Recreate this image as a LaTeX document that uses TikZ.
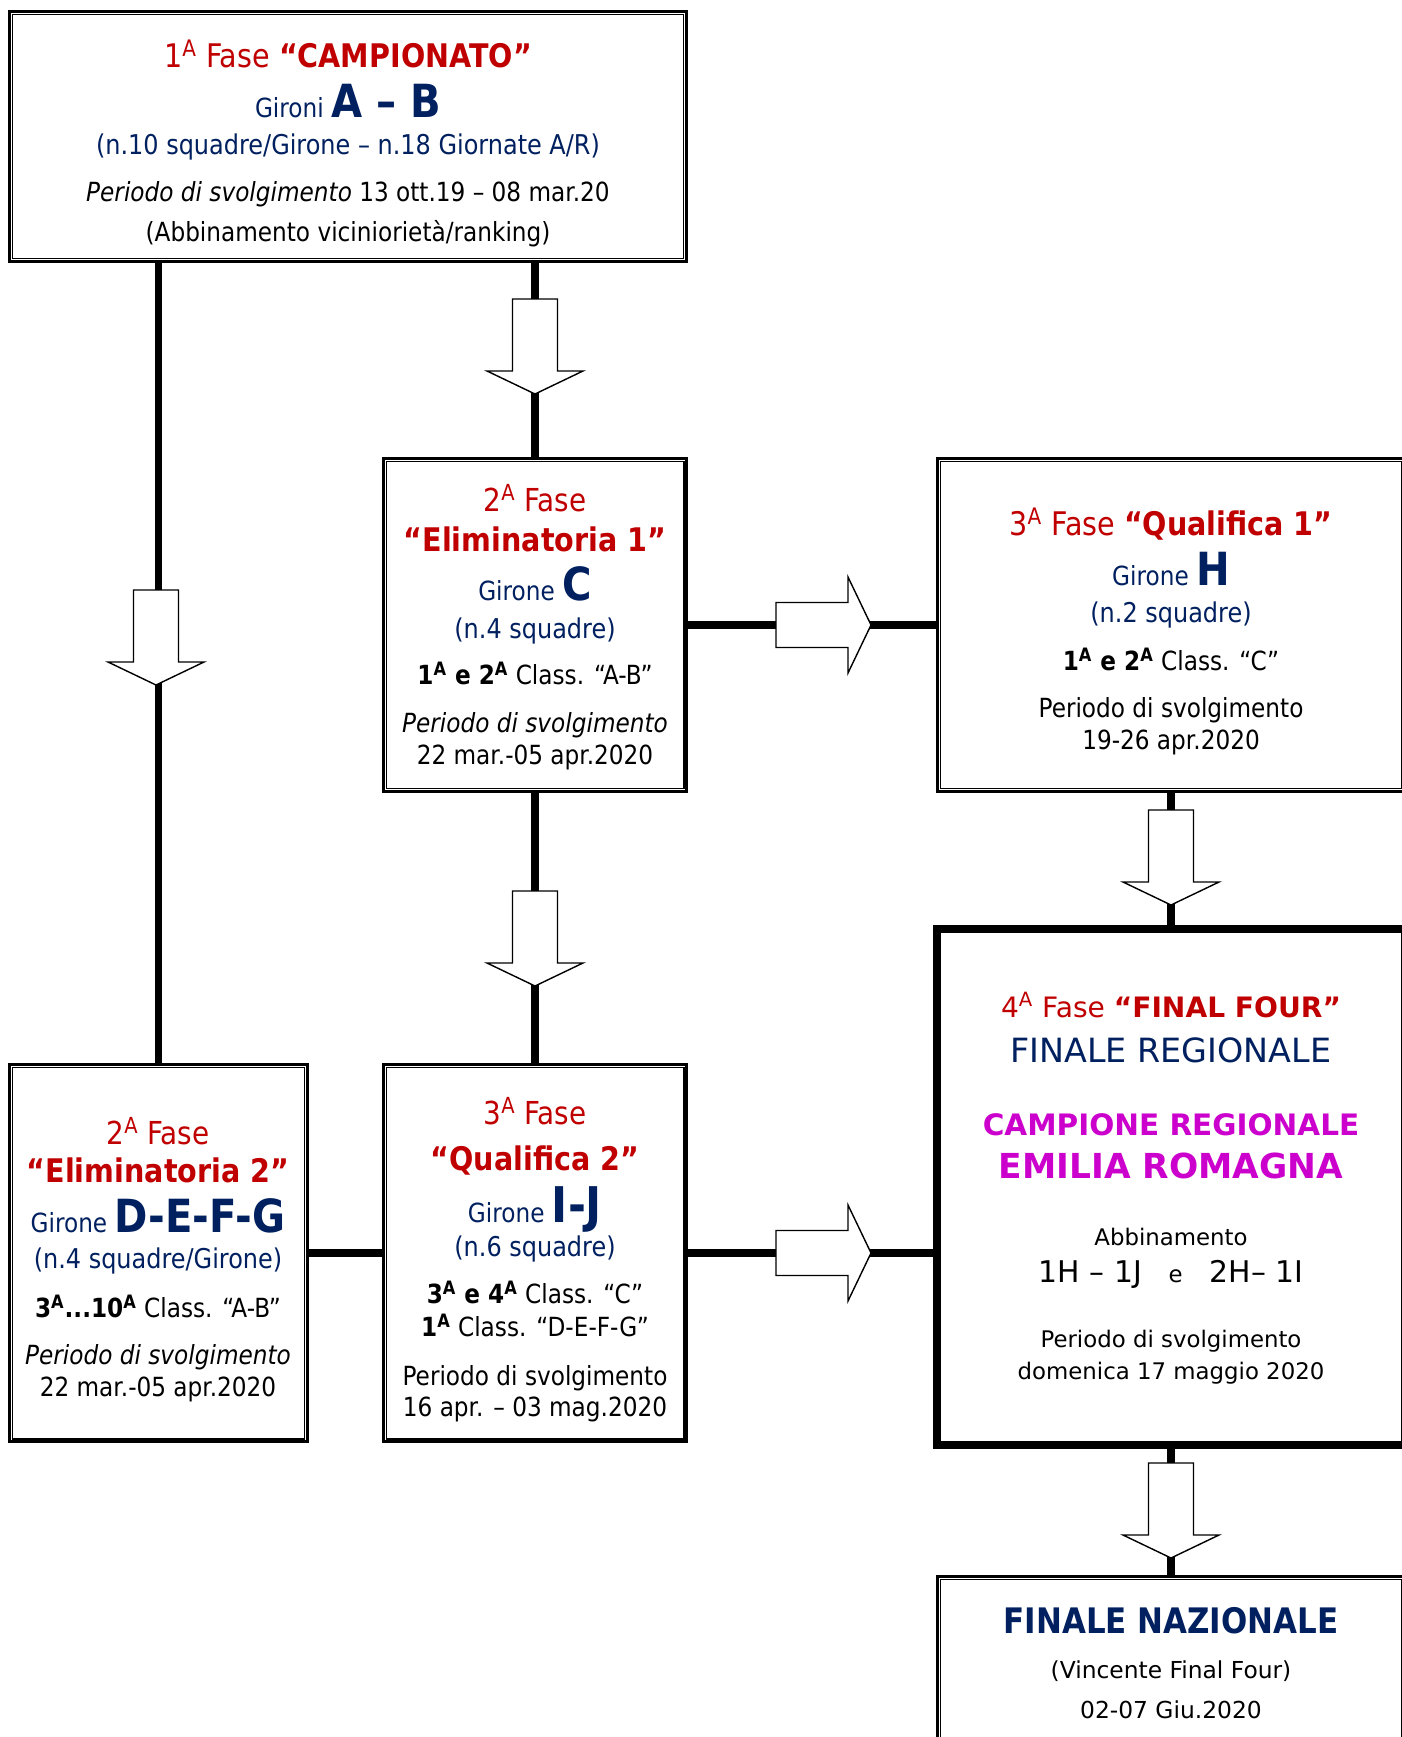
\documentclass[tikz,border=0pt]{standalone}
\usepackage{fontspec}
\setmainfont{DejaVu Sans}[FakeStretch=0.88]
\newfontfamily\wideface{DejaVu Sans}
\definecolor{faseRed}{HTML}{C00000}
\definecolor{gironeBlue}{HTML}{002060}
\definecolor{campMag}{HTML}{CC00CC}
\newcommand{\fsz}[1]{\fontsize{#1}{#1}\selectfont}
\newcommand{\supA}{\textsuperscript{A}}

\tikzset{
  fasebox/.style={draw, line width=1.7pt, fill=white, inner sep=0pt},
  finalbox/.style={draw, line width=5pt, fill=white, inner sep=0pt},
  conn/.style={line width=4.5pt},
  riga/.style={inner sep=0pt, text height=0.72em, text depth=0pt, anchor=center},
  bigarrow/.pic={\draw[line width=0.8pt, fill=white] (-22.5,-95) -- (22.5,-95) -- (22.5,-23) -- (48,-23) -- (0,0) -- (-48,-23) -- (-22.5,-23) -- cycle;}
}

\begin{document}
\begin{tikzpicture}[x=0.02cm, y=-0.02cm]
            \useasboundingbox[fill=white] (0,0) rectangle (1401,1737);
            % boxes
            \node[fasebox, minimum width=13.56cm, minimum height=5.02cm] (camp) at (348,136.5) {};
            \node[fasebox, minimum width=6.08cm, minimum height=6.68cm] (elim1) at (535,625) {};
            \node[fasebox, minimum width=9.36cm, minimum height=6.68cm] (qual1) at (1171,625) {};
            \node[fasebox, minimum width=5.98cm, minimum height=7.56cm] (elim2) at (158.5,1253) {};
            \node[fasebox, minimum width=6.08cm, minimum height=7.56cm] (qual2) at (535,1253) {};
            \node[finalbox, minimum width=9.36cm, minimum height=10.32cm] (ff) at (1171,1187) {};
            \node[fasebox, minimum width=9.36cm, minimum height=3.68cm] (fn) at (1171,1668) {};
            \foreach \b in {camp,elim1,qual1,elim2,qual2,fn}
                \draw[line width=0.6pt] ([shift={(4.5,4.5)}]\b.north west) rectangle ([shift={(-4.5,-4.5)}]\b.south east);
            % connectors
            \draw[conn] (camp.south -| elim2.north) -- (elim2.north);
            \draw[conn] (camp.south -| elim1.north) -- (elim1.north);
            \draw[conn] (elim1.east) -- (qual1.west);
            \draw[conn] (elim1.south) -- (qual2.north);
            \draw[conn] (qual1.south) -- (ff.north);
            \draw[conn] (elim2.east) -- (qual2.west);
            \draw[conn] (qual2.east) -- (qual2.east -| ff.west);
            \draw[conn] (ff.south) -- (fn.north);
            \pic at (156,685) {bigarrow};
            \pic at (535,394) {bigarrow};
            \pic[rotate=90] at (871,625) {bigarrow};
            \pic at (535,986) {bigarrow};
            \pic at (1171,905) {bigarrow};
            \pic[rotate=90] at (871,1253) {bigarrow};
            \pic at (1171,1558) {bigarrow};
            % 1a fase
            \node[riga, font=\fsz{18.5}, text=faseRed] (cA) at (348,61) {1\supA{} Fase \textbf{“CAMPIONATO”}};
            \node[riga, font=\fsz{15}, text=gironeBlue] (cB) at (348,111) {Gironi \textbf{\fsz{26}A – B}};
            \node[riga, font=\fsz{15.5}, text=gironeBlue] (cC) at (348,148) {(n.10 squadre/Girone – n.18 Giornate A/R)};
            \node[riga, font=\fsz{15}] (cD) at (348,195) {\textit{Periodo di svolgimento} 13 ott.19 – 08 mar.20};
            \node[riga, font=\fsz{15}] (cE) at (348,235) {(Abbinamento viciniorietà/ranking)};
            % eliminatoria 1
            \node[riga, font=\fsz{18}, text=faseRed] (e1A) at (535,505) {2\supA{} Fase};
            \node[riga, font=\fsz{18.5}, text=faseRed] (e1B) at (535,545) {\textbf{“Eliminatoria 1”}};
            \node[riga, font=\fsz{15}, text=gironeBlue] (e1C) at (535,594) {Girone \textbf{\fsz{26}C}};
            \node[riga, font=\fsz{15.5}, text=gironeBlue] (e1D) at (535,632) {(n.4 squadre)};
            \node[riga, font=\fsz{15}] (e1E) at (535,678) {\textbf{1\supA{} e 2\supA} Class. “A-B”};
            \node[riga, font=\fsz{15}] (e1F) at (535,726) {\textit{Periodo di svolgimento}};
            \node[riga, font=\fsz{15}] (e1G) at (535,758) {22 mar.-05 apr.2020};
            % qualifica 1
            \node[riga, font=\fsz{18.5}, text=faseRed] (q1A) at (1171,529) {3\supA{} Fase \textbf{“Qualifica 1”}};
            \node[riga, font=\fsz{15}, text=gironeBlue] (q1B) at (1171,579) {Girone \textbf{\fsz{26}H}};
            \node[riga, font=\fsz{15.5}, text=gironeBlue] (q1C) at (1171,616) {(n.2 squadre)};
            \node[riga, font=\fsz{15}] (q1D) at (1171,664) {\textbf{1\supA{} e 2\supA} Class. “C”};
            \node[riga, font=\fsz{15}] (q1E) at (1171,711) {Periodo di svolgimento};
            \node[riga, font=\fsz{15}] (q1F) at (1171,743) {19-26 apr.2020};
            % eliminatoria 2
            \node[riga, font=\fsz{18}, text=faseRed] (e2A) at (158,1138) {2\supA{} Fase};
            \node[riga, font=\fsz{18.5}, text=faseRed] (e2B) at (158,1176) {\textbf{“Eliminatoria 2”}};
            \node[riga, font=\fsz{15}, text=gironeBlue] (e2C) at (158,1226) {Girone \textbf{\fsz{26}D-E-F-G}};
            \node[riga, font=\fsz{15.5}, text=gironeBlue] (e2D) at (158,1262) {(n.4 squadre/Girone)};
            \node[riga, font=\fsz{15}] (e2E) at (158,1311) {\textbf{3\supA...10\supA} Class. “A-B”};
            \node[riga, font=\fsz{15}] (e2F) at (158,1358) {\textit{Periodo di svolgimento}};
            \node[riga, font=\fsz{15}] (e2G) at (158,1390) {22 mar.-05 apr.2020};
            % qualifica 2
            \node[riga, font=\fsz{18}, text=faseRed] (q2A) at (535,1118) {3\supA{} Fase};
            \node[riga, font=\fsz{18.5}, text=faseRed] (q2B) at (535,1164) {\textbf{“Qualifica 2”}};
            \node[riga, font=\fsz{15}, text=gironeBlue] (q2C) at (535,1216) {Girone \textbf{\fsz{28}I-J}};
            \node[riga, font=\fsz{15.5}, text=gironeBlue] (q2D) at (535,1250) {(n.6 squadre)};
            \node[riga, font=\fsz{15}] (q2E) at (535,1297) {\textbf{3\supA{} e 4\supA} Class. “C”};
            \node[riga, font=\fsz{15}] (q2F) at (535,1330) {\textbf{1\supA} Class. “D-E-F-G”};
            \node[riga, font=\fsz{15}] (q2G) at (535,1379) {Periodo di svolgimento};
            \node[riga, font=\fsz{15}] (q2H) at (535,1410) {16 apr. – 03 mag.2020};
            % final four
            \node[riga, font=\wideface\fsz{16}, text=faseRed] (ffA) at (1171,1011) {4\supA{} Fase \textbf{“FINAL FOUR”}};
            \node[riga, font=\wideface\fsz{19}, text=gironeBlue] (ffB) at (1171,1056) {FINALE REGIONALE};
            \node[riga, font=\wideface\bfseries\fsz{16.8}, text=campMag] (ffC) at (1171,1129) {CAMPIONE REGIONALE};
            \node[riga, font=\wideface\bfseries\fsz{19.6}, text=campMag] (ffD) at (1171,1172) {EMILIA ROMAGNA};
            \node[riga, font=\wideface\fsz{13}] (ffE) at (1171,1239) {Abbinamento};
            \node[riga, font=\wideface\fsz{17}] (ffF) at (1171,1276) {1H – 1J\hspace{0.9em}{\fsz{13}e}\hspace{0.9em}2H– 1I};
            \node[riga, font=\wideface\fsz{13}] (ffG) at (1171,1341) {Periodo di svolgimento};
            \node[riga, font=\wideface\fsz{13}] (ffH) at (1171,1373) {domenica 17 maggio 2020};
            % finale nazionale
            \node[riga, font=\bfseries\fsz{20}, text=gironeBlue] (fnA) at (1171,1627) {FINALE NAZIONALE};
            \node[riga, font=\wideface\fsz{13.3}] (fnB) at (1171,1672) {(Vincente Final Four)};
            \node[riga, font=\wideface\fsz{13.3}] (fnC) at (1171,1712) {02-07 Giu.2020};
        \end{tikzpicture}
\end{document}
